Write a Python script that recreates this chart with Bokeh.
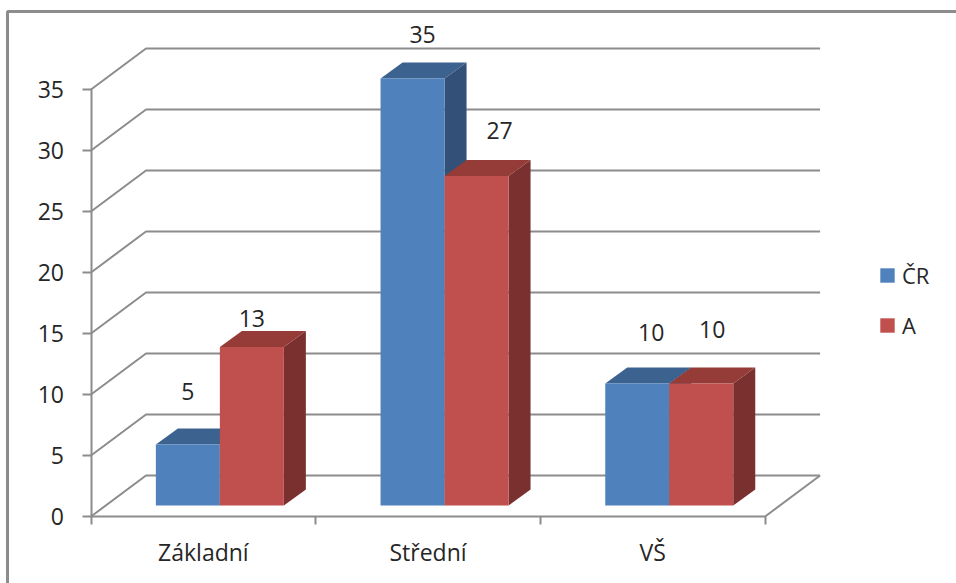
from bokeh.plotting import figure
from bokeh.embed import file_html
from bokeh.resources import INLINE
from bokeh.models import ColumnDataSource, FixedTicker, BoxAnnotation, Legend, LegendItem
from bokeh.core.properties import value

categories = ["Základní", "Střední", "VŠ"]
series_names = ["ČR", "A"]
cr_values = [5, 35, 10]
a_values = [13, 27, 10]
y_ticks = [0, 5, 10, 15, 20, 25, 30, 35]

PX_X = 224.7   # pixels per category
PX_Y = 12.2    # pixels per value unit
AX_L, AX_B = 90.5, 516
W, H = 956, 583
FONT = "Open Sans"
TXT = "#262626"
GRID = "#8c8c8c"

WALL_DX, WALL_DY = 55 / PX_X, 41 / PX_Y
BAR_W = 64 / PX_X
BAR_BASE = 11 / PX_Y
BAR_DX, BAR_DY = 22 / PX_X, 16 / PX_Y
BAR_SHIFT = 16.5 / PX_X

p = figure(width=W, height=H, output_backend="svg", toolbar_location=None,
           x_range=(-AX_L / PX_X, (W - AX_L) / PX_X), y_range=((AX_B - H) / PX_Y, AX_B / PX_Y),
           min_border_left=0, min_border_right=0, min_border_top=0, min_border_bottom=0,
           outline_line_color=None, margin=(0, 0, 0, 0))
p.grid.visible = False

# Y axis
ya = p.yaxis[0]
ya.fixed_location = 0
ya.ticker = FixedTicker(ticks=y_ticks)
ya.bounds = (0, 35)
ya.axis_line_color = GRID; ya.axis_line_width = 2
ya.major_tick_line_color = GRID; ya.major_tick_line_width = 2
ya.major_tick_out = 9; ya.major_tick_in = 0
ya.minor_tick_line_color = None
ya.major_label_text_font = FONT; ya.major_label_text_font_size = "23px"
ya.major_label_text_color = TXT; ya.major_label_standoff = 18

# X axis: ticks between categories, labels centred
xa = p.xaxis[0]
xa.fixed_location = 0
centers = [i + 0.5 for i in range(len(categories))]
xa.ticker = FixedTicker(ticks=centers, minor_ticks=list(range(len(categories) + 1)))
xa.major_label_overrides = {c: n for c, n in zip(centers, categories)}
xa.bounds = (0, len(categories))
xa.axis_line_color = GRID; xa.axis_line_width = 2
xa.major_tick_line_color = None
xa.major_tick_out = 0; xa.major_tick_in = 0
xa.minor_tick_line_color = GRID; xa.minor_tick_line_width = 2
xa.minor_tick_out = 8; xa.minor_tick_in = 0
xa.major_label_text_font = FONT; xa.major_label_text_font_size = "23px"
xa.major_label_text_color = TXT; xa.major_label_standoff = 11

# Walls, gridlines, floor
n = len(categories)
p.multi_line(xs=[[0, WALL_DX, n + WALL_DX] for _ in y_ticks],
             ys=[[t, t + WALL_DY, t + WALL_DY] for t in y_ticks],
             line_color=GRID, line_width=2)
p.line(x=[n, n + WALL_DX], y=[0, WALL_DY], line_color=GRID, line_width=2)

# Bars
def bars(vals, start, front, top, side):
    xl = [i + start for i in range(n)]
    xr = [x + BAR_W for x in xl]
    b = [BAR_BASE] * n
    tv = [v + BAR_BASE for v in vals]
    p.patches(xs=[[r, r + BAR_DX, r + BAR_DX, r] for r in xr],
              ys=[[t, t + BAR_DY, bb + BAR_DY, bb] for t, bb in zip(tv, b)],
              fill_color=side, line_color=None)
    p.patches(xs=[[l, l + BAR_DX, r + BAR_DX, r] for l, r in zip(xl, xr)],
              ys=[[t, t + BAR_DY, t + BAR_DY, t] for t in tv],
              fill_color=top, line_color=None)
    return p.quad(left=xl, right=xr, bottom=b, top=tv, fill_color=front, line_color=None)

START_CR = 0.5 - BAR_W + BAR_SHIFT
START_A = START_CR + BAR_W
r_cr = bars(cr_values, START_CR, "#4f81bd", "#3c6290", "#325078")
r_a = bars(a_values, START_A, "#c0504d", "#953c39", "#79302f")

# Data labels (pixel nudges as in the source chart)
lx, ly, lt, dx, dy = [], [], [], [], []
cr_nudge = [(0, 53), (10, 44), (14, 51)]
a_nudge = [(0, 28), (23, 46), (11, 54)]
for i in range(n):
    for vals, start, nudge in ((cr_values, START_CR, cr_nudge), (a_values, START_A, a_nudge)):
        lx.append(i + start + BAR_W / 2)
        ly.append(vals[i] + BAR_BASE)
        lt.append(str(vals[i]))
        dx.append(nudge[i][0])
        dy.append(-nudge[i][1])
src = ColumnDataSource(dict(x=lx, y=ly, t=lt, dx=dx, dy=dy))
p.text(x="x", y="y", text="t", x_offset="dx", y_offset="dy", source=src,
       text_font=value(FONT), text_font_size=value("23px"), text_color=TXT,
       text_align="center", text_baseline="middle")

# Legend
leg = Legend(items=[LegendItem(label=series_names[0], renderers=[r_cr]),
                    LegendItem(label=series_names[1], renderers=[r_a])],
             location=(878, 243), orientation="vertical",
             glyph_width=18, glyph_height=18, label_standoff=6, spacing=20, padding=0, margin=0,
             border_line_color=None, background_fill_alpha=0,
             label_text_font=FONT, label_text_font_size="22px", label_text_color=TXT)
p.add_layout(leg, "center")

# Outer chart border: only the top and left edges fall inside the picture
p.add_layout(BoxAnnotation(left=7, right=1100, top=11, bottom=800,
                           left_units="canvas", right_units="canvas", top_units="canvas", bottom_units="canvas",
                           fill_alpha=0, line_color="#8c8c8c", line_width=3, line_alpha=1))

open("out.html", "w").write(file_html(p, INLINE))
